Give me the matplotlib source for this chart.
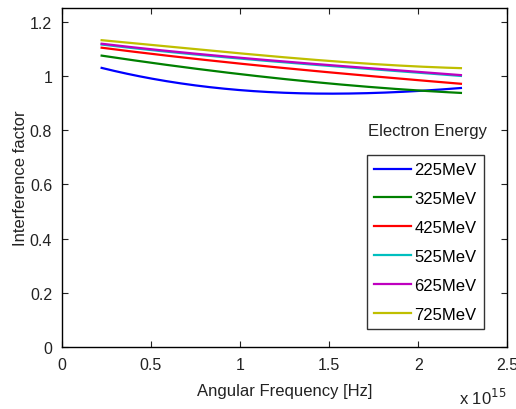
import numpy as np
import matplotlib.pyplot as plt
from matplotlib.ticker import FuncFormatter

plt.rcParams['font.family'] = ['Liberation Sans', 'DejaVu Sans']

# angular frequency (Hz) sample points
freq = np.array([0.223, 0.55, 1.02, 1.49, 1.86, 2.24]) * 1e15

energies = ['225MeV', '325MeV', '425MeV', '525MeV', '625MeV', '725MeV']
f225 = [1.028, 0.988, 0.942, 0.937, 0.939, 0.955]
f325 = [1.075, 1.043, 1.004, 0.976, 0.949, 0.938]
f425 = [1.103, 1.079, 1.043, 1.012, 0.994, 0.970]
f525 = [1.116, 1.090, 1.064, 1.037, 1.018, 1.000]
f625 = [1.119, 1.093, 1.067, 1.040, 1.021, 1.003]
f725 = [1.131, 1.112, 1.081, 1.055, 1.040, 1.028]
series = [f225, f325, f425, f525, f625, f725]
colors = ['#0000ff', '#008000', '#ff0000', '#00bfbf', '#bf00bf', '#bfbf00']

# smooth curves through the read points
xs = np.linspace(freq[0], freq[-1], 200)

fig = plt.figure(figsize=(5.16, 4.10), dpi=100)
ax = fig.add_axes([0.120, 0.151, 0.863, 0.827])

for lab, vals, c in zip(energies, series, colors):
    coef = np.polyfit(freq / 1e15, vals, 3)
    ax.plot(xs, np.polyval(coef, xs / 1e15), color=c, lw=1.6, label=lab)

ax.set_xlim(0, 2.5e15)
ax.set_ylim(0, 1.25)
ax.set_xticks(np.arange(0, 2.51, 0.5) * 1e15)
ax.set_yticks([0, 0.2, 0.4, 0.6, 0.8, 1.0, 1.2])
ax.xaxis.set_major_formatter(FuncFormatter(lambda v, p: '%g' % (v / 1e15)))
ax.yaxis.set_major_formatter(FuncFormatter(lambda v, p: '%g' % v))
ax.tick_params(direction='in', top=True, right=True, length=4, labelsize=11.5,
               colors='#222222')
ax.tick_params(axis='x', pad=7)
ax.tick_params(axis='y', pad=7)
for s in ax.spines.values():
    s.set_linewidth(1.0)

ax.set_xlabel('Angular Frequency [Hz]', fontsize=12, color='#222222', labelpad=8)
ax.set_ylabel('Interference factor', fontsize=12, color='#222222', labelpad=1)
fig.text(0.890, 0.013, r'x 10$^{15}$', fontsize=12, color='#222222')

leg = ax.legend(loc='lower right', bbox_to_anchor=(0.948, 0.053), fontsize=12,
                frameon=True, fancybox=False, edgecolor='black',
                handlelength=2.2, labelspacing=0.83, borderpad=0.45,
                handletextpad=0.2, borderaxespad=0)
leg.get_frame().set_linewidth(1.0)
fig.text(0.713, 0.668, 'Electron Energy', fontsize=12, color='#222222')

fig.savefig('out.png', dpi=100)
